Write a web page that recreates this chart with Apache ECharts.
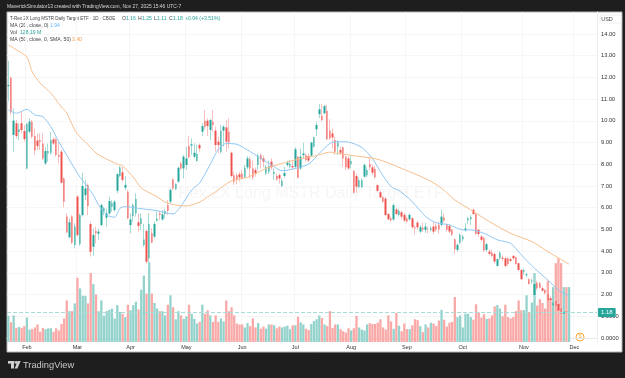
<!DOCTYPE html>
<html>
<head>
<meta charset="utf-8">
<title>T-Rex 2X Long MSTR Daily Target ETF</title>
<script src="https://cdn.jsdelivr.net/npm/echarts@6/dist/echarts.min.js"></script>
<style>
  html, body { margin: 0; padding: 0; background: #1e1e1e; }
  #chart { width: 625px; height: 378px; }
</style>
</head>
<body>
<div id="chart"></div>
<script>
// daily candles
const opens = [
  11.6,12,9.35,9.89,9.49,9.89,9.53,7.81,9.5,9.96,
  9.3,9.09,9.12,8.96,8.04,8.5,8.53,9.15,9.15,8.43,
  8.58,7.34,5.59,4.64,5.59,4.28,6.51,4.33,5.66,6.58,
  7.05,5.25,4.2,4.93,4.8,5.2,5.82,5.54,5.74,6.05,
  5.89,6.78,7.46,7.63,6.92,6.74,5.2,5.62,5.74,5.33,
  5.25,4.28,4.93,3.67,4.82,4.67,5.4,5.74,5.46,5.71,
  6.12,6.28,7.31,6.85,7.2,8.04,7.81,7.97,8.84,8.86,
  8.35,8.15,8.89,9.5,10.01,10.01,9.58,9.96,9.55,9.04,
  8.58,9.55,9.7,9.5,8.53,7.5,7.5,7.54,7.58,7.4,
  7.86,8.23,7.81,7.74,7.97,8.42,8.27,7.58,7.66,8.12,
  7.55,7.46,7.5,7,7.46,7.97,7.9,7.92,7.89,8.35,
  7.81,8.42,8.42,8.38,8.4,8.81,9.61,10.31,10.22,10.35,
  10.47,9.55,9.42,9.12,8.81,8.66,8.78,8.35,8.27,8,
  7.69,7.46,6.94,6.94,7.43,7.5,8.01,7.86,7.78,7.04,
  6.71,6.48,6.42,5.71,5.5,5.46,5.92,5.66,5.79,5.67,
  5.5,5.47,5.51,5.1,5.31,4.9,5.08,4.98,5,4.98,
  5.13,5.16,5.21,5.21,5.55,5.21,5.16,4.98,4.55,4.06,
  4.39,4.55,4.95,5.41,5.47,5.9,5.7,4.98,4.67,4.59,
  4.06,3.98,3.93,3.87,3.32,3.67,3.7,3.67,3.67,3.63,
  3.78,3.72,3.44,3.13,3.05,2.89,2.71,2.6,1.98,2.55,
  2.52,2.29,2.21,2.03,1.83,1.48,1.71,1.57,1.37,1.11,
  1.22,1.16
];
const closes = [
  11.65,10.4,10.01,9.3,9.61,9.58,9.16,9.85,9.96,9.27,
  8.63,8.84,9.04,8.27,8.61,8.61,9.12,8.96,8.43,8.35,
  7.15,6.28,4.87,5.33,4.39,5.13,4.74,5.66,7,6.89,
  6.08,3.97,4.74,4.82,4.9,6.12,5.97,5.74,6.31,6.2,
  6.28,7.55,7.86,7.28,7.05,5.51,5.46,6.12,6.4,5.16,
  5.51,4.54,3.51,5.25,4.4,5.25,5.5,5.66,5.69,5.85,
  5.86,6.82,6.89,7.09,7.84,7.81,8.35,8.27,8.32,8.92,
  8.53,8.47,8.73,9.76,9.73,9.76,10.04,9.81,8.89,8.89,
  9.55,9.73,9.04,9,7.46,7.2,7.28,7.4,7.35,7.84,
  8.27,7.81,7.4,7.58,8.4,8.23,8.12,7.86,7.92,7.86,
  7.66,7.3,7.35,7.24,7.6,8.07,8,7.86,8.69,7.38,
  8.35,8.5,8.2,8.17,9,9.24,9.81,10.53,10.04,10.68,
  9.15,9.2,9.24,8.58,9,8.53,8.27,7.86,7.81,8.15,
  6.69,6.97,7.27,7.27,7.97,7.74,7.86,7.61,7.4,6.78,
  6.48,6.28,5.66,5.46,5.42,6.12,5.71,5.86,5.59,5.41,
  5.36,5.67,5.1,5.05,5.1,5.1,5,5.13,4.98,5.05,
  4.9,5,5,5.59,5.41,4.98,4.9,4.75,4.09,4.29,
  4.75,4.67,5.05,5.51,5.56,5.71,4.79,4.79,4.52,4.03,
  4.32,3.87,3.78,3.52,3.63,3.93,3.65,3.32,3.41,3.55,
  3.67,3.41,3.13,2.71,3.12,2.93,2.49,2.65,2.49,2.29,
  2.32,2.18,2.06,1.72,1.75,1.63,1.48,1.26,1.11,1.22,
  1.14,1.18
];
const lows = [
  10.9,10.27,8.58,9.19,9.12,9.43,9.04,7.77,9.43,9.19,
  8.43,8.66,8.66,8.2,7.97,8.12,8.43,8.89,8.35,8.04,
  7.12,6.02,4.82,4.59,4.33,4.13,4.67,4.24,5.59,6.35,
  5.66,3.75,3.78,4.36,4.51,5.16,5.66,5.13,5.66,5.82,
  5.82,6.66,7.4,7.2,6.81,5.46,4.82,5.36,5.59,4.9,
  4.97,4.2,3.44,3.2,4.36,4.59,5.36,5.43,5.4,5.51,
  5.66,6.2,6.81,6.81,7.15,7.74,7.35,7.74,8.27,8.43,
  8.27,8.12,8.58,9.3,9.58,9.3,9.1,9.5,8.58,8.5,
  8.5,8.81,8.58,8.73,7.4,7.05,7.08,7.2,7.28,7.35,
  7.77,7.35,7.28,7.43,7.74,7.81,7.86,7.51,7.55,7.74,
  7.28,7.24,7.12,6.94,7.4,7.89,7.81,7.74,7.81,7.35,
  7.74,8.27,8.12,8.1,8.35,8.78,9.3,10.12,9.96,10.32,
  9.12,9.12,8.73,8.43,8.43,8.43,7.89,7.74,7.74,7.81,
  6.66,6.69,6.89,6.9,7.4,7.4,7.74,7.51,7.35,6.74,
  6.43,6.23,5.62,5.43,5.35,5.4,5.66,5.6,5.47,5.36,
  5.3,5.4,5.05,4.75,5,4.82,4.9,4.85,4.82,4.9,
  4.78,4.9,4.82,5.13,5.31,4.9,4.82,4.7,3.86,3.98,
  4.33,4.44,4.9,5.24,5.21,5.67,4.75,4.67,4.44,3.98,
  3.98,3.83,3.72,3.44,3.29,3.6,3.55,3.26,3.32,3.5,
  3.6,3.37,3.1,2.67,2.9,2.8,2.46,2.5,1.75,2.21,
  2.28,2.14,2,1.68,1.7,1.42,1.45,1.22,1.06,1.05,
  1.1,1.11
];
const highs = [
  12.76,12.02,10.58,10.04,9.88,10.42,9.81,9.92,10.12,10.04,
  9.65,9.42,9.42,9.42,8.81,8.96,9.5,9.24,9.24,9.04,
  8.66,7.4,5.74,5.51,5.66,5.28,6.58,5.74,7.61,7.28,
  7.12,5.36,5.05,5.13,5.05,6.2,6.05,5.97,6.51,6.35,
  6.35,7.58,7.92,7.89,7.46,6.81,5.74,6.2,6.66,5.74,
  5.74,5.25,5,5.74,5.05,5.36,5.82,5.86,5.89,5.92,
  6.35,6.89,7.35,7.12,7.89,8.12,8.43,8.81,9.3,9.2,
  8.96,8.89,8.96,9.89,10.5,10.12,10.1,10.5,9.73,9.27,
  9.81,9.81,10.04,10.12,8.58,7.66,7.61,7.66,7.74,7.97,
  8.38,8.35,8.17,7.86,8.5,8.5,8.42,7.97,8.17,8.27,
  7.81,7.58,7.58,7.35,7.89,8.17,8.2,8.12,8.78,8.38,
  8.73,9,8.5,8.5,9.04,9.27,9.96,10.78,10.78,10.74,
  10.73,10.07,9.65,9.27,9.12,8.81,8.81,8.38,8.38,8.42,
  7.74,7.58,7.4,7.35,8.04,7.86,8.35,7.97,7.92,7.07,
  6.81,6.54,6.51,5.74,5.6,6.2,6,5.95,5.87,5.75,
  5.6,5.75,5.56,5.2,5.4,5.2,5.31,5.31,5.13,5.16,
  5.36,5.28,5.36,5.9,5.75,5.28,5.25,5.05,4.59,4.36,
  4.82,4.75,5.28,5.59,5.67,5.98,5.75,5.05,4.75,4.67,
  4.39,4.09,4.06,3.93,3.67,4,3.8,3.75,3.72,3.7,
  3.83,3.75,3.47,3.17,3.2,3,2.75,2.72,2.6,2.64,
  2.58,2.37,2.26,2.09,1.95,1.72,1.83,1.63,1.45,1.3,
  1.3,1.25
];
// volume in millions
const volumes = [
  61,46,62,33,35,33,37,57,29,30,
  34,41,24,33,30,32,32,24,32,27,
  42,55,97,72,72,90,150,125,108,108,
  90,161,135,111,72,97,61,72,75,78,
  55,86,70,66,58,87,74,86,94,76,
  122,155,113,186,113,91,78,72,72,62,
  87,109,81,53,72,62,54,60,87,66,
  54,43,47,87,66,74,62,47,62,47,
  55,48,97,72,81,62,43,41,41,34,
  44,37,55,34,44,31,36,31,41,41,
  39,32,36,34,36,38,30,39,39,59,
  46,41,31,28,42,49,53,62,56,41,
  37,72,33,41,41,30,25,22,32,27,
  32,61,34,29,27,41,44,42,42,45,
  53,34,29,62,48,31,68,38,25,43,
  30,30,39,53,51,37,23,41,34,45,
  43,37,50,75,52,36,45,47,105,58,
  62,34,66,66,58,52,88,69,57,65,
  54,55,62,83,86,78,60,87,58,55,
  58,72,97,74,74,109,70,92,161,85,
  100,91,78,143,102,128,184,195,184,128,
  128,128
];
// moving averages, sampled along the drawn lines (bar index, value)
const ma20Idx = [0,3,7,10,13,16,19,23,27,29,32,34,37,40,42,44,49,56,62,65,69,72,76,79,82,86,90,95,99,103,108,113,117,121,124,128,133,137,140,144,147,152,157,161,166,171,174,179,184,189,193,198,203,207,211];
const ma20Vals = [10.5,10.35,10.53,10.27,10.19,9.73,9.04,8.2,7.4,7.09,6.58,6.12,5.66,5.56,5.97,6.05,5.97,5.86,5.71,6.08,6.82,7.14,8,8.69,8.96,8.92,8.66,8.27,7.97,7.7,7.81,8.01,8.5,8.96,9.04,9.02,8.78,8.27,7.66,6.97,6.79,6.28,5.59,5.31,5.21,4.98,4.98,4.82,4.52,4.36,3.83,3.21,2.67,2.21,1.94];
const ma50Idx = [0,2,7,9,12,16,18,20,22,25,27,29,33,37,41,43,47,50,56,59,63,67,72,75,78,84,90,97,103,109,116,121,124,131,139,147,158,163,168,174,181,189,197,203,211];
const ma50Vals = [13.49,13.35,12.94,12.25,11.74,11.28,10.96,10.64,10.36,9.58,9.26,9.03,8.52,8.24,8.01,7.92,7.41,6.91,6.5,6.26,6.12,6.08,6.26,6.5,6.74,7.24,7.4,7.81,8.04,8.23,8.4,8.56,8.5,8.38,8.23,7.86,7.28,6.9,6.36,5.9,5.36,4.82,4.44,3.98,3.4];

const monthNames = ['Feb','Mar','Apr','May','Jun','Jul','Aug','Sep','Oct','Nov','Dec'];
const monthIdx = [7,26,46,67,88,108,129,150,171,194,213];
const priceTicks = [0,1,2,3,4,5,6,7,8,9,10,11,12,13,14];
const lastPrice = 1.18;

const upColor = '#26a69a';
const downColor = '#ef5350';
const upPale = '#a3dad4';
const downPale = '#f7c0bf';
const upVol = '#94d3cc';
const downVol = '#f9a9a7';
const textFont = '"Liberation Sans", sans-serif';

// empty slots on the right so the axis runs past the last bar
const categories = Array.from({ length: 222 }, (_, i) => String(i));

const wickData = opens.map((o, i) => [o, closes[i], lows[i], highs[i]]);
const bodyData = opens.map((o, i) => [o, closes[i], Math.min(o, closes[i]), Math.max(o, closes[i])]);
const volData = volumes.map((v, i) => ({
  value: v,
  itemStyle: { color: closes[i] >= opens[i] ? upVol : downVol }
}));

function isMonth(i) {
  return monthIdx.indexOf(i) >= 0;
}

// tiny labels are drawn at 6px and squeezed, small font sizes come out garbled
function label(x, y, text, color, sx, size, extra) {
  return {
    type: 'text',
    x: x,
    y: y,
    scaleX: sx || 0.85,
    silent: true,
    style: Object.assign({
      text: text,
      fill: color,
      font: (size || 6) + 'px ' + textFont,
      textVerticalAlign: 'middle'
    }, extra || {})
  };
}

const chart = echarts.init(document.getElementById('chart'), null, { renderer: 'canvas' });

chart.setOption({
  animation: false,
  backgroundColor: '#1e1e1e',
  grid: { left: 7, top: 12, width: 590, height: 330, containLabel: false },
  xAxis: {
    type: 'category',
    data: categories,
    boundaryGap: true,
    axisLine: { lineStyle: { color: '#e8e8e8', width: 1 } },
    axisTick: { show: false },
    splitLine: { show: true, interval: isMonth, lineStyle: { color: '#f6f6f6', width: 1 } },
    axisLabel: {
      interval: isMonth,
      margin: 2,
      fontSize: 5.5,
      color: '#333',
      fontFamily: textFont,
      hideOverlap: false,
      formatter: (v, i) => monthNames[monthIdx.indexOf(i)] || ''
    }
  },
  yAxis: [
    {
      type: 'value',
      position: 'right',
      min: -0.184,
      max: 15.013,
      axisLine: { show: true, lineStyle: { color: '#eeeeee' } },
      axisTick: { show: false, customValues: priceTicks },
      splitLine: { show: true, customValues: priceTicks, lineStyle: { color: '#f6f6f6', width: 1 } },
      axisLabel: {
        customValues: priceTicks,
        margin: 4,
        fontSize: 5.8,
        color: '#333',
        fontFamily: textFont,
        formatter: v => v >= 2 ? v.toFixed(2) : v.toFixed(4)
      }
    },
    { type: 'value', min: 0, max: 770, show: false }
  ],
  series: [
    {
      name: 'Vol',
      type: 'bar',
      yAxisIndex: 1,
      data: volData,
      barWidth: 2.3,
      z: 1,
      silent: true
    },
    {
      name: 'Wicks',
      type: 'candlestick',
      data: wickData,
      barWidth: 1,
      z: 2,
      silent: true,
      itemStyle: { color: upPale, color0: downPale, borderColor: upPale, borderColor0: downPale, borderWidth: 1 }
    },
    {
      name: 'T-Rex 2X Long MSTR Daily Target ETF',
      type: 'candlestick',
      data: bodyData,
      barWidth: 2,
      z: 3,
      silent: true,
      itemStyle: { color: upColor, color0: downColor, borderColor: upColor, borderColor0: downColor, borderWidth: 0 },
      markLine: {
        silent: true,
        symbol: 'none',
        animation: false,
        data: [{ yAxis: lastPrice }],
        lineStyle: { color: '#a8dcd6', type: 'dashed', width: 1 },
        label: {
          position: 'end',
          formatter: lastPrice.toFixed(2),
          color: '#fff',
          fontSize: 6,
          fontFamily: textFont,
          backgroundColor: upColor,
          padding: [1.5, 3],
          borderRadius: 1,
          distance: 1
        }
      }
    },
    {
      name: 'MA 20',
      type: 'line',
      data: ma20Idx.map((x, i) => [x, ma20Vals[i]]),
      showSymbol: false,
      smooth: 0.25,
      z: 4,
      silent: true,
      lineStyle: { color: '#90c8f5', width: 1 }
    },
    {
      name: 'MA 50',
      type: 'line',
      data: ma50Idx.map((x, i) => [x, ma50Vals[i]]),
      showSymbol: false,
      smooth: 0.25,
      z: 4,
      silent: true,
      lineStyle: { color: '#f9bf8c', width: 1 }
    }
  ],
  graphic: [
    // white panel behind the plot
    { type: 'rect', z: -10, silent: true, shape: { x: 7, y: 12, width: 615, height: 340 }, style: { fill: '#fff', stroke: '#b5b5b5', lineWidth: 1 } },
    label(304, 194, 'T-Rex 2X Long MSTR Daily Target ETF', '#f6f6f6', 1, 16, { textAlign: 'center' }),
    label(7, 6, 'MaverickSimulator13 created with TradingView.com, Nov 27, 2025 15:46 UTC-7', '#d8d8d8', 0.82),
    label(10, 18, 'T-Rex 2X Long MSTR Daily Target ETF · 1D · CBOE', '#444', 0.75),
    label(122, 18, 'O', '#444'), label(126, 18, '1.16', upColor),
    label(138, 18, 'H', '#444'), label(142, 18, '1.25', upColor),
    label(154, 18, 'L', '#444'), label(157, 18, '1.11', upColor),
    label(169, 18, 'C', '#444'), label(173, 18, '1.18', upColor),
    label(185, 18, '+0.04 (+3.51%)', upColor),
    label(10, 25, 'MA (20, close, 0)', '#444'), label(50, 25, '1.94', '#64b5f6'),
    label(10, 32, 'Vol', '#444'), label(20, 32, '128.19 M', upColor),
    label(10, 39, 'MA (50, close, 0, SMA, 50)', '#444'), label(72, 39, '3.40', '#f79a4d'),
    // USD box
    { type: 'rect', silent: true, shape: { x: 600, y: 15, width: 21, height: 8, r: 1 }, style: { fill: '#fff', stroke: '#f0f0f0', lineWidth: 1 } },
    label(607, 19, 'USD', '#444', 1, 5.5, { textAlign: 'center' }),
    // dividend marker
    { type: 'circle', silent: true, shape: { cx: 580, cy: 337, r: 4 }, style: { fill: '#fff', stroke: '#f7a733', lineWidth: 1 } },
    label(580, 337, 'S', '#f7a733', 1, 5, { textAlign: 'center' }),
    // TradingView logo
    { type: 'rect', silent: true, shape: { x: 8, y: 361, width: 6.5, height: 2.6 }, style: { fill: '#d0d0d0' } },
    { type: 'rect', silent: true, shape: { x: 11, y: 361, width: 3, height: 7.5 }, style: { fill: '#d0d0d0' } },
    { type: 'circle', silent: true, shape: { cx: 16.3, cy: 362.4, r: 1.4 }, style: { fill: '#d0d0d0' } },
    { type: 'polygon', silent: true, shape: { points: [[14.6, 368.5], [17.8, 361], [20.6, 361], [17.4, 368.5]] }, style: { fill: '#d0d0d0' } },
    label(23, 365.5, 'TradingView', '#c8c8c8', 0.95, 9.8)
  ]
});
</script>
</body>
</html>
